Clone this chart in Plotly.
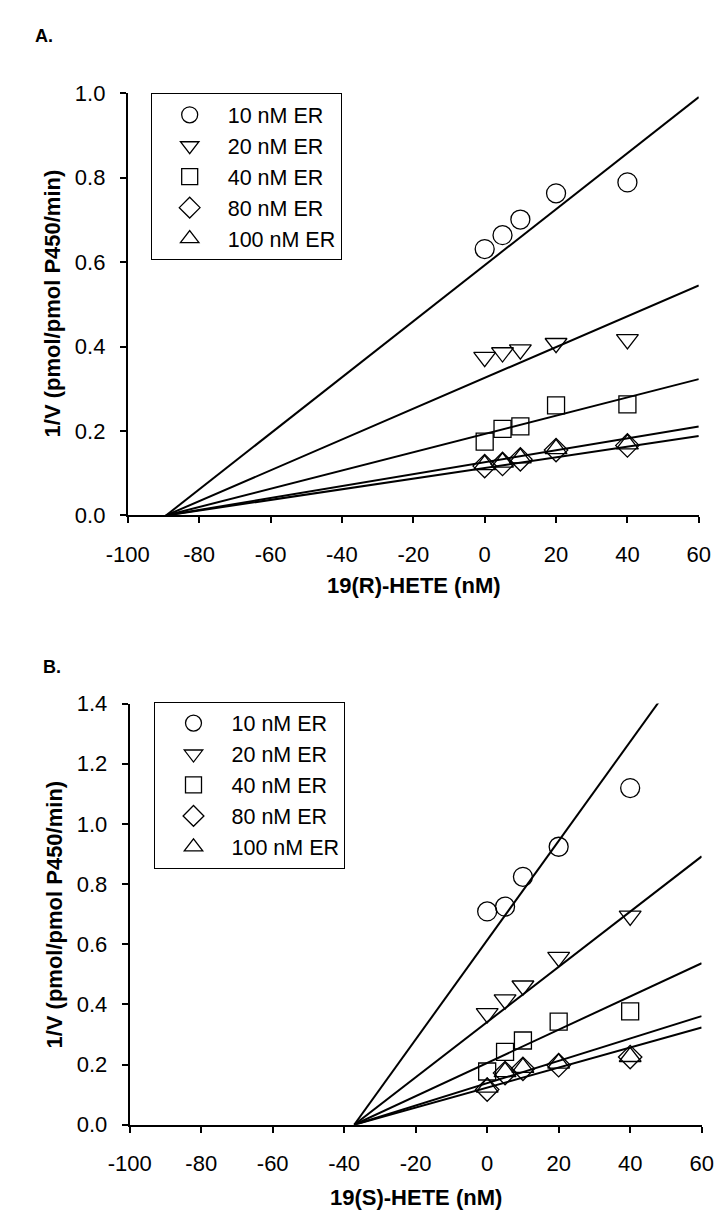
import plotly.graph_objects as go

W, H = 727, 1222

# ---------------- data ----------------
hete_conc = [0, 5, 10, 20, 40]  # nM
series_names = ["10 nM ER", "20 nM ER", "40 nM ER", "80 nM ER", "100 nM ER"]
symbols = ["circle-open", "triangle-down-open", "square-open", "diamond-open", "triangle-up-open"]
marker_sizes = [19, 19, 17, 18, 19]

# Panel A: 19(R)-HETE
a_10 = [0.631, 0.664, 0.701, 0.763, 0.789]
a_20 = [0.375, 0.386, 0.393, 0.408, 0.417]
a_40 = [0.175, 0.205, 0.211, 0.261, 0.263]
a_80 = [0.117, 0.122, 0.133, 0.155, 0.166]
a_100 = [0.120, 0.126, 0.136, 0.158, 0.169]
a_fit_xint = -89.3                              # common x-intercept of fitted lines
a_fit_y_at_60 = [0.991, 0.545, 0.323, 0.211, 0.188]

# Panel B: 19(S)-HETE
b_10 = [0.709, 0.725, 0.824, 0.924, 1.119]
b_20 = [0.370, 0.416, 0.462, 0.557, 0.694]
b_40 = [0.177, 0.242, 0.280, 0.343, 0.377]
b_80 = [0.117, 0.172, 0.186, 0.198, 0.225]
b_100 = [0.124, 0.176, 0.190, 0.204, 0.226]
b_fit_xint = -37.2
b_fit_y_at_60 = [1.603, 0.892, 0.537, 0.361, 0.323]

x_ticks = [-100, -80, -60, -40, -20, 0, 20, 40, 60]
x_ticktext = ["-100", "-80", "-60", "-40", "-20", "0", "20", "40", "60"]
x_end = 60

FONT = "Liberation Sans, Arial, sans-serif"

fig = go.Figure()


def add_panel(ys, xint, y60, xa, ya, legend):
    for i in range(len(series_names)):
        # fitted line
        fig.add_trace(go.Scatter(
            x=[xint, x_end], y=[0, y60[i]], mode="lines",
            line=dict(color="black", width=2), showlegend=False,
            xaxis=xa, yaxis=ya, hoverinfo="skip"))
    for name, sym, ms, yv in zip(series_names, symbols, marker_sizes, ys):
        fig.add_trace(go.Scatter(
            x=hete_conc, y=yv, mode="markers", name=name,
            marker=dict(symbol=sym, size=ms, color="black", line=dict(color="black", width=1.3)),
            xaxis=xa, yaxis=ya, legend=legend, cliponaxis=False))


add_panel([a_10, a_20, a_40, a_80, a_100], a_fit_xint, a_fit_y_at_60, "x", "y", "legend")
add_panel([b_10, b_20, b_40, b_80, b_100], b_fit_xint, b_fit_y_at_60, "x2", "y2", "legend2")


def px_x(p):
    return p / W


def px_y(p):
    return 1 - p / H


axis_common = dict(
    showline=True, linecolor="black", linewidth=2,
    ticks="outside", ticklen=6, tickwidth=2, tickcolor="black",
    showgrid=False, zeroline=False,
    tickfont=dict(family=FONT, size=22, color="black"),
)

legend_common = dict(
    xanchor="left", yanchor="top",
    bordercolor="black", borderwidth=1, bgcolor="white",
    font=dict(family=FONT, size=21.5, color="black"), itemwidth=66,
)

fig.update_layout(
    width=W, height=H,
    margin=dict(l=0, r=0, t=0, b=0),
    paper_bgcolor="white", plot_bgcolor="white",
    showlegend=True,
    xaxis=dict(domain=[px_x(111), px_x(710)], range=[-100, 60], tickvals=x_ticks,
               ticktext=x_ticktext, anchor="y", ticklabelstandoff=12, **axis_common),
    yaxis=dict(domain=[px_y(514), px_y(83)], range=[0, 1.0], dtick=0.2, tickformat=".1f",
               anchor="x", ticklabelstandoff=10, **axis_common),
    xaxis2=dict(domain=[px_x(113), px_x(713)], range=[-100, 60], tickvals=x_ticks,
                ticktext=x_ticktext, anchor="y2", ticklabelstandoff=12, **axis_common),
    yaxis2=dict(domain=[px_y(1136), px_y(706)], range=[0, 1.4], dtick=0.2, tickformat=".1f",
                anchor="x2", ticklabelstandoff=10, **axis_common),
    legend=dict(x=px_x(135), y=px_y(83), **legend_common),
    legend2=dict(x=px_x(139), y=px_y(704), **legend_common),
)

title_font = dict(family=FONT, size=22, color="black", weight="bold")
label_font = dict(family=FONT, size=18, color="black", weight="bold")

annotations = [
    dict(text="A.", x=px_x(12), y=px_y(24), xanchor="left", yanchor="middle", font=label_font),
    dict(text="B.", x=px_x(20), y=px_y(669), xanchor="left", yanchor="middle", font=label_font),
    dict(text="1/V (pmol/pmol P450/min)", x=px_x(32), y=px_y(298), textangle=-90,
         xanchor="center", yanchor="middle", font=title_font),
    dict(text="1/V (pmol/pmol P450/min)", x=px_x(34), y=px_y(921), textangle=-90,
         xanchor="center", yanchor="middle", font=title_font),
    dict(text="19(R)-HETE (nM)", x=px_x(411), y=px_y(585), xanchor="center", yanchor="middle",
         font=title_font),
    dict(text="19(S)-HETE (nM)", x=px_x(413), y=px_y(1210), xanchor="center", yanchor="middle",
         font=title_font),
]
for a in annotations:
    a.update(xref="paper", yref="paper", showarrow=False)
fig.update_layout(annotations=annotations)

fig.write_html("out.html")
